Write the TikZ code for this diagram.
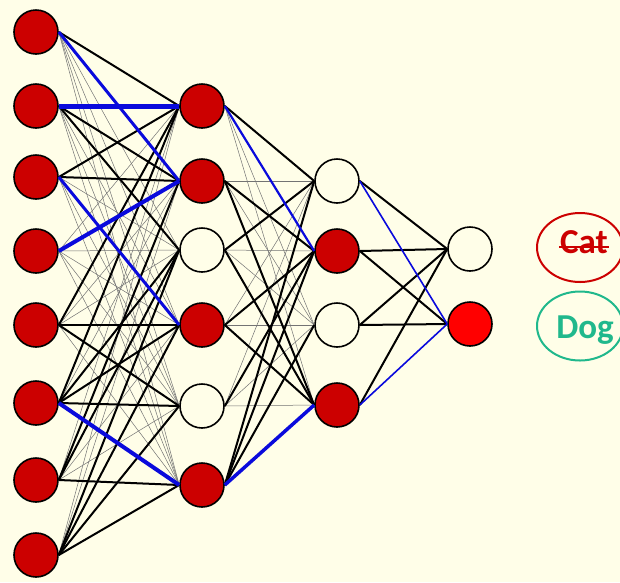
\documentclass[tikz,border=0pt]{standalone}
\usepackage{fontspec}
\setmainfont{Carlito}
\usetikzlibrary{shapes.geometric}
\definecolor{bg}{RGB}{255,254,232}
\definecolor{nred}{RGB}{204,0,0}
\definecolor{ored}{RGB}{255,0,0}
\definecolor{eblue}{RGB}{10,10,220}
\definecolor{catred}{RGB}{204,0,0}
\definecolor{dogteal}{RGB}{32,184,140}
\begin{document}
\begin{tikzpicture}[x=1pt,y=-1pt,
  neuron/.style={circle,draw=black,line width=1.6pt,minimum size=44pt,inner sep=0pt},
  act/.style={neuron,fill=nred},
  idle/.style={neuron,fill=bg},
  outact/.style={neuron,fill=ored},
  wlink/.style={line width=0.5pt,black!55},
  slink/.style={line width=2pt,black},
  blink/.style={eblue},
  lbl/.style={font=\fontsize{35}{35}\selectfont\bfseries,anchor=base,inner sep=0pt},
  oval/.style={ellipse,line width=2pt,minimum width=86pt,minimum height=69pt,inner sep=0pt}]
\fill[bg] (0,0) rectangle (620,582);
\useasboundingbox (0,0) rectangle (620,582);
% nodes
\foreach \y [count=\i] in {32,106,177,251,325,403,480,555}
  \node[act] (i\i) at (36,\y) {};
\node[act]  (h1) at (202,106) {};
\node[act]  (h2) at (202,181) {};
\node[idle] (h3) at (202,250) {};
\node[act]  (h4) at (202,325) {};
\node[idle] (h5) at (202,406) {};
\node[act]  (h6) at (202,485) {};
\node[idle] (k1) at (337,181) {};
\node[act]  (k2) at (337,251) {};
\node[idle] (k3) at (337,325) {};
\node[act]  (k4) at (337,405) {};
\node[idle]   (o1) at (470,249) {};
\node[outact] (o2) at (470,324) {};
% thin links
\foreach \a in {1,...,8}
  \foreach \b in {1,...,6}
    \draw[wlink] (i\a.east) -- (h\b.west);
\foreach \a in {1,...,6}
  \foreach \b in {1,...,4}
    \draw[wlink] (h\a.east) -- (k\b.west);
% strong black links layer 1-2
\foreach \a/\b in {1/1,2/2,2/3,3/1,3/2,5/1,5/4,5/5,6/1,6/3,6/4,6/5,7/2,7/3,7/6,8/3,8/4,8/5,8/6}
  \draw[slink] (i\a.east) -- (h\b.west);
% strong black links layer 2-3
\foreach \a/\b in {1/1,2/2,2/4,3/1,3/4,4/2,4/4,5/2,6/1,6/2,6/3}
  \draw[slink] (h\a.east) -- (k\b.west);
% layer 3-4
\foreach \a/\b in {1/1,2/1,2/2,3/1,3/2,4/1}
  \draw[slink] (k\a.east) -- (o\b.west);
% blue links
\draw[blink,line width=3pt] (i1.east) -- (h2.west);
\draw[blink,line width=5pt] (i2.east) -- (h1.west);
\draw[blink,line width=3pt] (i3.east) -- (h4.west);
\draw[blink,line width=4pt] (i4.east) -- (h2.west);
\draw[blink,line width=4pt] (i6.east) -- (h6.west);
\draw[blink,line width=2.2pt] (h1.east) -- (k2.west);
\draw[blink,line width=3.5pt] (h6.east) -- (k4.west);
\draw[blink,line width=1.6pt] (k1.east) -- (o2.west);
\draw[blink,line width=1.6pt] (k4.east) -- (o2.west);
% labels
\node[oval,draw=catred] (catell) at (580,247.5) {};
\node[lbl,text=catred] (cattxt) at (584,253) {Cat};
\draw[catred,line width=2.6pt] ([xshift=-1pt,yshift=6pt]cattxt.base west) -- ([xshift=1pt,yshift=6pt]cattxt.base east);
\node[oval,draw=dogteal] (dogell) at (580,326) {};
\node[lbl,text=dogteal] (dogtxt) at (585,338) {Dog};
\end{tikzpicture}
\end{document}
